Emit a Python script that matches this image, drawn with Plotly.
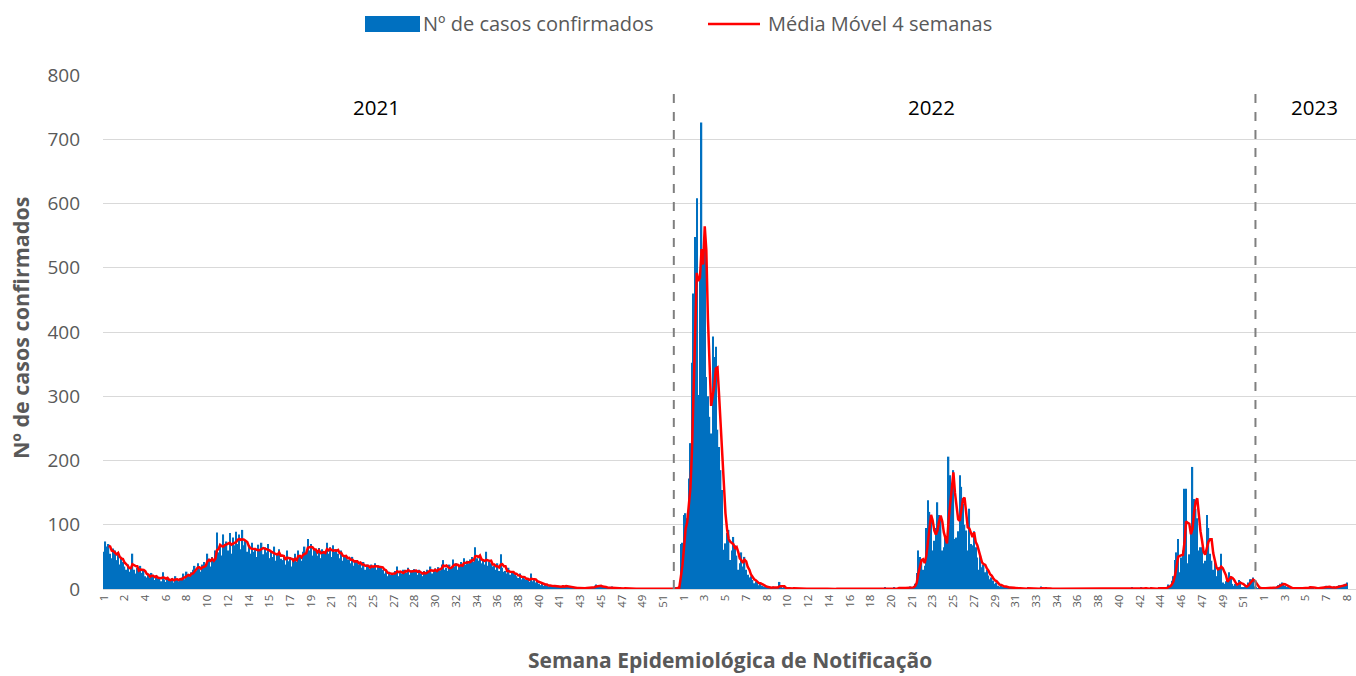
import numpy as np
import pandas as pd
import plotly.graph_objects as go

# ---------------- DATA (daily confirmed cases) ----------------
cases_2021 = [
    58, 74, 66, 70, 55, 48, 63,
    60, 45, 57, 38, 50, 42, 35,
    30, 38, 27, 34, 55, 30, 24,
    33, 28, 36, 25, 30, 20, 18,
    22, 17, 25, 19, 14, 21, 16,
    18, 12, 26, 15, 11, 17, 14,
    13, 17, 10, 20, 14, 12, 16,
    18, 24, 15, 27, 22, 19, 26,
    30, 36, 28, 40, 31, 27, 38,
    42, 38, 55, 47, 35, 50, 44,
    60, 88, 57, 70, 52, 85, 66,
    74, 60, 87, 55, 80, 68, 89,
    70, 85, 62, 92, 68, 75, 58,
    66, 55, 72, 58, 64, 50, 69,
    60, 72, 54, 65, 57, 70, 48,
    58, 50, 66, 44, 55, 62, 47,
    45, 52, 38, 60, 43, 50, 35,
    48, 55, 42, 60, 50, 44, 58,
    66, 55, 78, 60, 70, 52, 64,
    60, 52, 64, 48, 62, 56, 58,
    72, 55, 65, 50, 68, 58, 62,
    55, 48, 60, 44, 52, 50, 46,
    46, 40, 50, 36, 45, 42, 38,
    40, 33, 42, 30, 38, 35, 31,
    38, 34, 40, 30, 37, 33, 35,
    30, 24, 28, 20, 27, 22, 25,
    22, 28, 35, 20, 26, 24, 30,
    30, 25, 33, 22, 29, 27, 31,
    27, 22, 30, 24, 20, 28, 25,
    30, 26, 35, 24, 28, 32, 27,
    34, 29, 38, 45, 30, 33, 28,
    38, 32, 46, 35, 40, 30, 37,
    42, 36, 48, 38, 44, 40, 46,
    50, 42, 65, 48, 44, 52, 40,
    45, 38, 58, 36, 42, 40, 35,
    36, 30, 40, 28, 54, 33, 27,
    28, 24, 33, 22, 26, 25, 23,
    20, 17, 24, 15, 19, 16, 14,
    15, 11, 24, 12, 14, 10, 13,
    8, 6, 10, 5, 7, 6, 4,
    5, 3, 6, 4, 3, 5, 2,
    4, 6, 3, 5, 2, 4, 3,
    2, 1, 3, 1, 2, 0, 1,
    1, 3, 2, 1, 2, 3, 1,
    5, 7, 3, 4, 6, 2, 3,
    2, 3, 1, 2, 4, 1, 2,
    1, 0, 2, 1, 0, 1, 1,
    0, 1, 0, 0, 1, 0, 0,
    0, 0, 1, 0, 0, 0, 1,
    1, 0, 0, 0, 0, 1, 0,
    0, 0, 1, 0, 1, 0, 0,
    1, 0, 2, 3,
]

cases_2022 = [
    0, 70, 72, 115, 118, 110, 172,
    227, 352, 460, 548, 608, 302, 480,
    726, 512, 540, 330, 300, 268, 242,
    393, 361, 377, 248, 221, 185, 154,
    61, 71, 87, 92, 45, 60, 81,
    68, 52, 30, 40, 57, 35, 50,
    30, 22, 18, 20, 14, 9, 12,
    10, 6, 8, 5, 4, 3, 2,
    3, 1, 2, 4, 2, 3, 1,
    11, 2, 1, 3, 1, 0, 2,
    1, 0, 2, 1, 0, 1, 0,
    0, 1, 0, 0, 1, 0, 0,
    1, 0, 0, 1, 0, 0, 1,
    0, 0, 1, 0, 0, 0, 0,
    0, 1, 0, 0, 0, 1, 0,
    0, 0, 0, 1, 0, 0, 0,
    1, 0, 0, 0, 0, 1, 0,
    0, 0, 1, 0, 0, 0, 1,
    0, 1, 0, 2, 0, 1, 0,
    1, 0, 2, 1, 0, 3, 1,
    2, 1, 3, 2, 1, 4, 2,
    3, 8, 25, 60, 50, 45, 30,
    36, 95, 138, 120, 109, 60, 75,
    95, 135, 115, 112, 60, 65, 80,
    79, 206, 177, 158, 185, 78, 80,
    90, 177, 159, 133, 100, 91, 60,
    125, 70, 68, 90, 65, 49, 30,
    52, 34, 38, 26, 30, 21, 15,
    18, 13, 8, 10, 5, 4, 6,
    3, 2, 4, 1, 2, 3, 1,
    2, 1, 0, 1, 2, 0, 1,
    0, 1, 2, 0, 1, 0, 0,
    1, 0, 0, 4, 1, 0, 2,
    0, 1, 0, 0, 1, 0, 0,
    1, 0, 0, 1, 0, 0, 0,
    0, 0, 1, 0, 0, 1, 0,
    0, 1, 0, 0, 0, 0, 1,
    0, 0, 0, 1, 0, 0, 0,
    1, 0, 0, 0, 1, 0, 0,
    0, 0, 1, 0, 0, 0, 0,
    0, 1, 0, 0, 2, 0, 0,
    1, 0, 0, 3, 1, 0, 1,
    0, 1, 2, 0, 1, 0, 1,
    2, 1, 0, 2, 1, 3, 7,
    5, 13, 20, 45, 57, 78, 26,
    49, 60, 156, 156, 40, 54, 91,
    190, 140, 125, 110, 60, 65, 65,
    40, 44, 115, 95, 55, 44, 30,
    42, 20, 30, 34, 55, 10, 8,
    12, 15, 26, 20, 8, 5, 8,
    6, 14, 12, 3, 2, 4, 6,
    10, 15, 15, 18, 4, 2, 1,
]

cases_2023 = [
    2, 1, 0, 1, 3, 2, 1,
    2, 1, 3, 2, 4, 6, 8,
    10, 7, 5, 3, 2, 1, 0,
    1, 2, 0, 1, 2, 1, 0,
    1, 2, 3, 2, 4, 3, 1,
    0, 1, 2, 3, 1, 2, 4,
    5, 3, 2, 1, 3, 4, 2,
    3, 6, 5, 4, 7, 8, 10,
]

# week-number tick labels (Excel shows one label every 13 categories)
week_tick_labels = [
    "1", "2", "4", "6", "8", "10", "12", "14", "15", "17", "19", "21", "23", "25",
    "27", "28", "30", "32", "34", "36", "38", "40", "41", "43", "45", "47", "49", "51",
    "1", "3", "5", "7", "8", "10", "12", "14", "16", "18", "20", "21", "23", "25",
    "27", "29", "31", "33", "34", "36", "38", "40", "42", "44", "46", "47", "49", "51",
    "1", "3", "5", "7", "8",
]
tick_step = 13

years = ["2021", "2022", "2023"]
year_label_pos = [171, 519.5, 759.7]     # category positions of year captions
year_dividers = [357.6, 722.5]           # dashed separators (category units)

series_bar_name = "Nº de casos confirmados"
series_line_name = "Média Móvel 4 semanas"
ma_window = 4

# ---------------- FIGURE ----------------
cases = cases_2021 + cases_2022 + cases_2023
xs = np.arange(len(cases))
moving_avg = pd.Series(cases, dtype=float).rolling(ma_window).mean()

W, H = 1356, 676
ML, MR, MT, MB = 103, 0, 75, 87
PW, PH = W - ML - MR, H - MT - MB


def px(xp):
    return (xp - ML) / PW


def py(yp):
    return (H - MB - yp) / PH


GREY = "#595959"
FONT = "Open Sans"

fig = go.Figure()
fig.add_bar(x=xs, y=cases, name=series_bar_name, marker=dict(color="#0070C0", line=dict(width=0)),
            showlegend=False)
fig.add_scatter(x=xs, y=moving_avg, mode="lines", name=series_line_name,
                line=dict(color="#FF0000", width=2.5), showlegend=False)

tickvals = [i * tick_step for i in range(len(week_tick_labels))]

fig.update_layout(
    width=W, height=H,
    margin=dict(l=ML, r=MR, t=MT, b=MB, pad=0),
    plot_bgcolor="white", paper_bgcolor="white",
    bargap=0.12,
    font=dict(family=FONT, color=GREY),
    xaxis=dict(
        range=[-0.5, -0.5 + PW / 1.594],
        tickmode="array", tickvals=tickvals, ticktext=week_tick_labels,
        tickangle=-90, tickfont=dict(size=11.5, color=GREY, family=FONT),
        showgrid=False, zeroline=False, showline=True, linecolor="#D9D9D9", linewidth=1,
        ticks="", ticklen=0,
    ),
    yaxis=dict(
        range=[0, 800], dtick=100, tickfont=dict(size=19, color=GREY, family=FONT),
        showgrid=True, gridcolor="#D9D9D9", gridwidth=1, zeroline=False,
        ticks="", ticklabelstandoff=22,
    ),
)

shapes = []
for xd in year_dividers:
    shapes.append(dict(type="line", xref="x", yref="y", x0=xd, x1=xd, y0=0, y1=780,
                       line=dict(color="#7F7F7F", width=2, dash="dash"), layer="above"))
# legend (drawn)
shapes.append(dict(type="rect", xref="paper", yref="paper", x0=px(365), x1=px(420), y0=py(32), y1=py(16),
                   fillcolor="#0070C0", line=dict(width=0)))
shapes.append(dict(type="line", xref="paper", yref="paper", x0=px(708), x1=px(760), y0=py(24), y1=py(24),
                   line=dict(color="#FF0000", width=2.5)))
fig.update_layout(shapes=shapes)

ann = []
for yr, xp in zip(years, year_label_pos):
    ann.append(dict(x=xp, y=750, xref="x", yref="y", text=yr, showarrow=False,
                    font=dict(size=20.5, color="#000000", family=FONT)))
ann.append(dict(x=px(421), y=py(24), xref="paper", yref="paper", text=series_bar_name, showarrow=False,
                xanchor="left", yanchor="middle", font=dict(size=20, color=GREY, family=FONT)))
ann.append(dict(x=px(766), y=py(24), xref="paper", yref="paper", text=series_line_name, showarrow=False,
                xanchor="left", yanchor="middle", font=dict(size=20, color=GREY, family=FONT)))
ann.append(dict(x=px(20), y=py(328), xref="paper", yref="paper", text="<b>Nº de casos confirmados</b>",
                showarrow=False, textangle=-90, xanchor="center", yanchor="middle",
                font=dict(size=21.5, color=GREY, family=FONT)))
ann.append(dict(x=px(730), y=py(660), xref="paper", yref="paper",
                text="<b>Semana Epidemiológica de Notificação</b>", showarrow=False,
                xanchor="center", yanchor="middle", font=dict(size=21, color=GREY, family=FONT)))
fig.update_layout(annotations=ann)

fig.write_html("out.html", config={"displayModeBar": False},
               post_script="document.body.style.margin='0';")
